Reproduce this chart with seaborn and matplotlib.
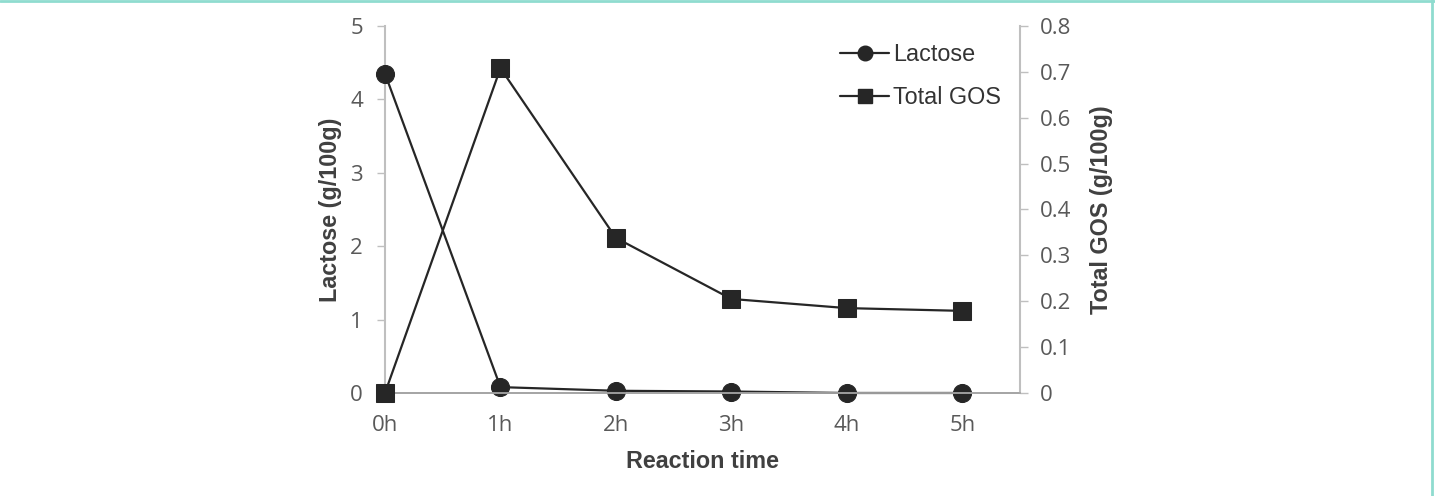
import pandas as pd
import seaborn as sns
import matplotlib.pyplot as plt
from matplotlib.lines import Line2D

# chart values
times = ["0h", "1h", "2h", "3h", "4h", "5h"]
lactose = [4.35, 0.08, 0.03, 0.02, 0.0, 0.0]
total_gos = [0.0, 0.708, 0.338, 0.205, 0.185, 0.179]

DARK = "#262626"
TICK_GREY = "#595959"
SPINE_GREY = "#bfbfbf"
FRAME_TEAL = "#8fdccf"

sns.set_theme(style="white")
plt.rcParams["font.family"] = ["Liberation Sans", "DejaVu Sans"]

df = pd.DataFrame({"time": times, "Lactose": lactose, "Total GOS": total_gos})

fig = plt.figure(figsize=(14.35, 4.96), dpi=100)
ax = fig.add_axes([0.2683, 0.2077, 0.4425, 0.7399])
ax2 = ax.twinx()

sns.lineplot(data=df, x="time", y="Lactose", ax=ax, color=DARK, marker="o",
             markersize=13, linewidth=1.6, markeredgecolor=DARK, label="Lactose",
             legend=False, clip_on=False, zorder=5)
sns.lineplot(data=df, x="time", y="Total GOS", ax=ax2, color=DARK, marker="s",
             markersize=12.5, linewidth=1.6, markeredgecolor=DARK, label="Total GOS",
             legend=False, clip_on=False, zorder=5)

ax.set_xlim(0, 5.5)
ax.set_ylim(0, 5)
ax2.set_ylim(0, 0.8)
ax.set_yticks([0, 1, 2, 3, 4, 5])
ax.set_yticklabels(["0", "1", "2", "3", "4", "5"])
ax2.set_yticks([0, 0.1, 0.2, 0.3, 0.4, 0.5, 0.6, 0.7, 0.8])
ax2.set_yticklabels(["0", "0.1", "0.2", "0.3", "0.4", "0.5", "0.6", "0.7", "0.8"])

for a in (ax, ax2):
    a.grid(False)
    a.spines["top"].set_visible(False)
    a.spines["left"].set_color(SPINE_GREY)
    a.spines["right"].set_color(SPINE_GREY)
    a.spines["bottom"].set_color("#a6a6a6")
    a.spines["left"].set_linewidth(1.5)
    a.spines["right"].set_linewidth(1.5)
    a.spines["bottom"].set_linewidth(1.3)
    a.tick_params(axis="both", which="major", direction="out", length=6,
                  width=1, color=SPINE_GREY, labelcolor=TICK_GREY, labelsize=16)
    for lbl in a.get_xticklabels() + a.get_yticklabels():
        lbl.set_fontfamily(["Open Sans", "DejaVu Sans"])

ax.spines["right"].set_visible(False)
ax2.spines["left"].set_visible(False)
ax.tick_params(axis="y", pad=10)
ax2.tick_params(axis="y", pad=8)
ax.tick_params(axis="x", pad=12, length=4)

ax.set_xlabel("Reaction time", fontsize=16.8, fontweight="bold", color="#404040", labelpad=10)
ax.set_ylabel("Lactose (g/100g)", fontsize=16.8, fontweight="bold", color="#404040", labelpad=6)
ax2.set_ylabel("Total GOS (g/100g)", fontsize=16.8, fontweight="bold", color="#404040",
               labelpad=14, rotation=90)

handles = [
    Line2D([], [], color=DARK, marker="o", markersize=10.5, linewidth=1.6),
    Line2D([], [], color=DARK, marker="s", markersize=10, linewidth=1.6),
]
leg = ax2.legend(handles, ["Lactose", "Total GOS"], loc="upper right",
                 bbox_to_anchor=(1.003, 1.01), frameon=False, fontsize=16.8,
                 handlelength=2.1, handletextpad=0.15, labelspacing=0.85)
for t in leg.get_texts():
    t.set_color("#333333")

# thin teal frame along top and right edges of the panel
fig.add_artist(Line2D([0, 1], [0.998, 0.998], transform=fig.transFigure,
                      color=FRAME_TEAL, linewidth=2))
fig.add_artist(Line2D([0.9978, 0.9978], [0, 1], transform=fig.transFigure,
                      color=FRAME_TEAL, linewidth=2))

fig.savefig("out.png", dpi=100)
plt.close(fig)
